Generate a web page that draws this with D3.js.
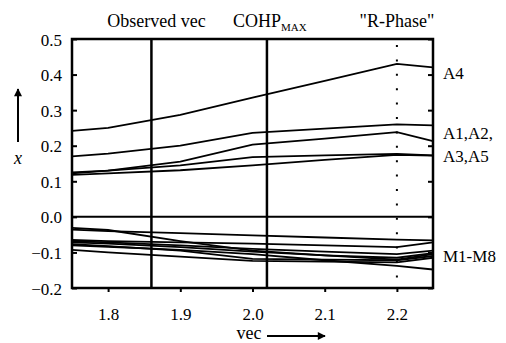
<!DOCTYPE html>
<html>
<head>
<meta charset="utf-8">
<script src="https://cdn.jsdelivr.net/npm/d3@7"></script>
<style>
  body { margin: 0; background: #fff; }
</style>
</head>
<body>
<script>
/* data */

var vec = [1.75, 1.8, 1.9, 2.0, 2.1, 2.2, 2.25];

var aSeries = [
  [0.242, 0.250, 0.287, 0.335, 0.382, 0.430, 0.420], // A4
  [0.170, 0.178, 0.200, 0.236, 0.248, 0.260, 0.257],
  [0.125, 0.130, 0.155, 0.203, 0.220, 0.238, 0.213],
  [0.122, 0.130, 0.145, 0.168, 0.173, 0.177, 0.173],
  [0.118, 0.122, 0.131, 0.145, 0.160, 0.174, 0.172]
];

var mSeries = [
  [-0.031, -0.037, -0.068, -0.095, -0.108, -0.120, -0.105],
  [-0.036, -0.040, -0.046, -0.052, -0.058, -0.064, -0.066],
  [-0.065, -0.068, -0.072, -0.075, -0.080, -0.085, -0.072],
  [-0.068, -0.072, -0.080, -0.090, -0.098, -0.105, -0.095],
  [-0.072, -0.075, -0.085, -0.098, -0.108, -0.115, -0.102],
  [-0.077, -0.082, -0.095, -0.118, -0.120, -0.122, -0.110],
  [-0.080, -0.084, -0.093, -0.105, -0.122, -0.138, -0.148],
  [-0.093, -0.100, -0.112, -0.124, -0.126, -0.128, -0.115]
];

var xTicks = [1.8, 1.9, 2.0, 2.1, 2.2];
var yTicks = [0.5, 0.4, 0.3, 0.2, 0.1, 0.0, -0.1, -0.2];

var markers = [
  { v: 1.86, dotted: false },
  { v: 2.02, dotted: false },
  { v: 2.2, dotted: true }
];

var rightLabels = [
  { text: 'A4', y: 0.405 },
  { text: 'A1,A2,', y: 0.235 },
  { text: 'A3,A5', y: 0.170 },
  { text: 'M1-M8', y: -0.110 }
];

var serif = '"Liberation Serif", "Times New Roman", serif';

/* canvas */

var width = 506;
var height = 343;
var margin = { top: 39, right: 73, bottom: 55, left: 72 };
var innerWidth = width - margin.left - margin.right;
var innerHeight = height - margin.top - margin.bottom;

var svg = d3.select('body').
append('svg').
attr('width', width).
attr('height', height).
style('display', 'block').
style('font-family', serif);

var g = svg.append('g').
attr('transform', 'translate(' + margin.left + ',' + margin.top + ')');

var x = d3.scaleLinear().domain([1.75, 2.25]).range([0, innerWidth]);
var y = d3.scaleLinear().domain([-0.2, 0.5]).range([innerHeight, 0]);

/* axes */

var yAxis = g.append('g').
call(d3.axisLeft(y).tickValues(yTicks).tickSizeInner(-5).tickSizeOuter(0).tickPadding(10).
  tickFormat(d3.format('.1f')));
yAxis.attr('font-family', null).attr('font-size', null);
yAxis.select('.domain').remove();
yAxis.selectAll('line').attr('stroke-width', 2);
yAxis.selectAll('text').attr('dy', 6).
style('font-family', serif).style('font-size', '17px');

var yAxisR = g.append('g').
attr('transform', 'translate(' + innerWidth + ',0)').
call(d3.axisRight(y).tickValues(yTicks).tickSizeInner(-5).tickSizeOuter(0).tickFormat(''));
yAxisR.select('.domain').remove();
yAxisR.selectAll('line').attr('stroke-width', 2);
yAxisR.selectAll('text').remove();

var xAxis = g.append('g').
attr('transform', 'translate(0,' + innerHeight + ')').
call(d3.axisBottom(x).tickValues(xTicks).tickSizeInner(4).tickSizeOuter(0).
  tickFormat(d3.format('.1f')));
xAxis.attr('font-family', null).attr('font-size', null);
xAxis.select('.domain').remove();
xAxis.selectAll('line').attr('stroke-width', 2);
xAxis.selectAll('text').attr('y', 32).attr('dy', 0).
style('font-family', serif).style('font-size', '17px');

/* frame and zero line */

g.append('rect').
attr('width', innerWidth).
attr('height', innerHeight).
attr('fill', 'none').
attr('stroke', '#000').
attr('stroke-width', 2.5);

g.append('line').
attr('x1', 0).attr('x2', innerWidth).
attr('y1', y(0)).attr('y2', y(0)).
attr('stroke', '#000').attr('stroke-width', 2);

/* vertical markers */

g.selectAll('.marker').
data(markers).
enter().
append('line').
attr('class', 'marker').
attr('x1', function (d) {return x(d.v);}).
attr('x2', function (d) {return x(d.v);}).
attr('y1', 0).
attr('y2', innerHeight).
attr('stroke', '#000').
attr('stroke-width', function (d) {return d.dotted ? 2 : 2.5;}).
attr('stroke-dasharray', function (d) {return d.dotted ? '2,12.4' : null;}).
attr('stroke-dashoffset', function (d) {return d.dotted ? -6 : null;});

/* curves */

var line = d3.line().
x(function (d, i) {return x(vec[i]);}).
y(function (d) {return y(d);});

g.selectAll('.curve').
data(aSeries.concat(mSeries)).
enter().
append('path').
attr('class', 'curve').
attr('d', line).
attr('fill', 'none').
attr('stroke', '#000').
attr('stroke-width', 1.8);

/* right labels */

g.selectAll('.rlabel').
data(rightLabels).
enter().
append('text').
attr('class', 'rlabel').
attr('x', innerWidth + 10).
attr('y', function (d) {return y(d.y) + 6;}).
style('font-size', '17px').
text(function (d) {return d.text;});

/* top labels */

svg.append('text').
attr('x', margin.left + x(1.86) + 5).
attr('y', 27).
attr('text-anchor', 'middle').
style('font-size', '18px').
text('Observed vec');

var cohp = svg.append('text').
attr('x', 233).
attr('y', 27).
style('font-size', '18px');
cohp.append('tspan').text('COHP');
cohp.append('tspan').attr('dy', 4).style('font-size', '11px').text('MAX');

svg.append('text').
attr('x', margin.left + x(2.2)).
attr('y', 27).
attr('text-anchor', 'middle').
style('font-size', '18px').
text('"R-Phase"');

/* axis titles */

svg.append('text').
attr('x', 249).
attr('y', 339).
attr('text-anchor', 'middle').
style('font-size', '18px').
text('vec');

var defs = svg.append('defs');
defs.append('marker').
attr('id', 'head').
attr('viewBox', '0 0 10 10').
attr('refX', 9).
attr('refY', 5).
attr('markerWidth', 5).
attr('markerHeight', 4).
attr('orient', 'auto').
append('path').
attr('d', 'M0,0L10,5L0,10Z').
attr('fill', '#000');

svg.append('line').
attr('x1', 267).attr('y1', 336).
attr('x2', 325).attr('y2', 336).
attr('stroke', '#000').attr('stroke-width', 2).
attr('marker-end', 'url(#head)');

svg.append('line').
attr('x1', 18).attr('y1', 142).
attr('x2', 18).attr('y2', 89).
attr('stroke', '#000').attr('stroke-width', 2).
attr('marker-end', 'url(#head)');

svg.append('text').
attr('x', 18).
attr('y', 164).
attr('text-anchor', 'middle').
style('font-size', '18px').
style('font-style', 'italic').
text('x');
</script>
</body>
</html>
